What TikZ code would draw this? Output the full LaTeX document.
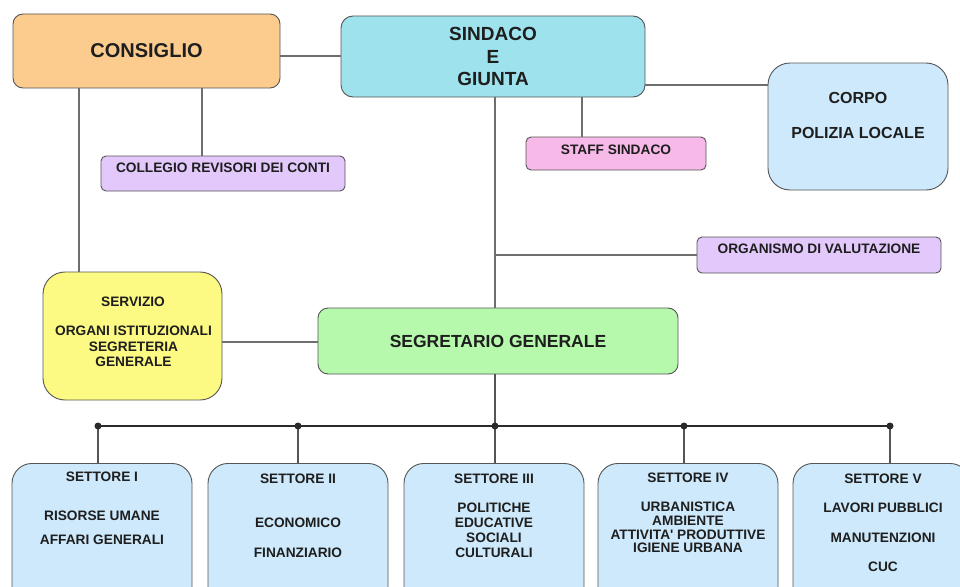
\documentclass[tikz,border=0pt]{standalone}
\usepackage{fontspec}
\setmainfont{Liberation Sans}
\definecolor{boxline}{HTML}{555555}
\definecolor{linec}{HTML}{6E6E6E}
\definecolor{busc}{HTML}{2A2A2A}
\definecolor{txtc}{HTML}{1E1E1E}
\definecolor{consf}{HTML}{FCCB8E}
\definecolor{sindf}{HTML}{9DE2EC}
\definecolor{bluef}{HTML}{CDE9FB}
\definecolor{staff}{HTML}{F6B9E8}
\definecolor{lavf}{HTML}{E2C8FB}
\definecolor{yelf}{HTML}{FCFA82}
\definecolor{grnf}{HTML}{B6F8AC}
\begin{document}
\begin{tikzpicture}[x=1pt,y=-1pt,
  orgbox/.style={draw=boxline,line width=0.9pt,inner sep=0pt},
  txt/.style={font=\bfseries\fontsize{13.7}{15}\selectfont,text=txtc,align=center,inner sep=0pt},
  link/.style={draw=linec,line width=1.8pt},
  bus/.style={draw=busc,line width=1.3pt},
  stem/.style={draw=busc!80!white,line width=1.5pt},
  dotn/.style={circle,fill=busc,inner sep=0pt,minimum size=7pt}]
\clip (0,0) rectangle (960,586);
\fill[white] (0,0) rectangle (960,586);

% boxes
\node[orgbox,fill=consf,rounded corners=10pt,minimum width=267pt,minimum height=74pt,
      font=\bfseries\fontsize{20}{22}\selectfont,text=txtc] (cons) at (146.5,51) {CONSIGLIO};
\node[orgbox,fill=sindf,rounded corners=12pt,minimum width=304pt,minimum height=81pt,
      font=\bfseries\fontsize{19}{22.5}\selectfont,text=txtc,align=center] (sind) at (493,56.5) {SINDACO\\E\\GIUNTA};
\node[orgbox,fill=bluef,rounded corners=22pt,minimum width=180pt,minimum height=127pt] (corpo) at (858,126.5) {};
\node[font=\bfseries\fontsize{16}{18}\selectfont,text=txtc,inner sep=0pt] (corpot1) at (858,98) {CORPO};
\node[font=\bfseries\fontsize{16}{18}\selectfont,text=txtc,inner sep=0pt] (corpot2) at (858,133) {POLIZIA LOCALE};
\node[orgbox,fill=staff,rounded corners=5pt,minimum width=180pt,minimum height=33pt] (staffb) at (616,153.5) {};
\node[txt] (stafft) at (616,150) {STAFF SINDACO};
\node[orgbox,fill=lavf,rounded corners=5pt,minimum width=244pt,minimum height=35pt] (coll) at (223,173.5) {};
\node[txt] (collt) at (223,168) {COLLEGIO REVISORI DEI CONTI};
\node[orgbox,fill=lavf,rounded corners=5pt,minimum width=244pt,minimum height=36pt] (org) at (819,255) {};
\node[txt] (orgt) at (819,249) {ORGANISMO DI VALUTAZIONE};
\node[orgbox,fill=yelf,rounded corners=22pt,minimum width=179pt,minimum height=128pt] (serv) at (132.5,336) {};
\node[txt] (servt1) at (133,302) {SERVIZIO};
\node[txt,font=\bfseries\fontsize{13.7}{15.5}\selectfont] (servt2) at (133.5,346.5) {ORGANI ISTITUZIONALI\\SEGRETERIA\\GENERALE};
\node[orgbox,fill=grnf,rounded corners=10pt,minimum width=360pt,minimum height=66pt,
      font=\bfseries\fontsize{17.5}{20}\selectfont,text=txtc] (segr) at (498,341) {SEGRETARIO GENERALE};

% settori
\node[orgbox,fill=bluef,rounded corners=20pt,minimum width=180pt,minimum height=150pt,anchor=north] (s1) at (102,463) {};
\node[orgbox,fill=bluef,rounded corners=20pt,minimum width=180pt,minimum height=150pt,anchor=north] (s2) at (298,463) {};
\node[orgbox,fill=bluef,rounded corners=20pt,minimum width=180pt,minimum height=150pt,anchor=north] (s3) at (494,463) {};
\node[orgbox,fill=bluef,rounded corners=20pt,minimum width=180pt,minimum height=150pt,anchor=north] (s4) at (688,463) {};
\node[orgbox,fill=bluef,rounded corners=20pt,minimum width=177pt,minimum height=150pt,anchor=north] (s5) at (881.5,463) {};

\node[txt] (s1h) at (102,477) {SETTORE I};
\node[txt,font=\bfseries\fontsize{13.7}{24}\selectfont] (s1b) at (102,528) {RISORSE UMANE\\AFFARI GENERALI};
\node[txt] (s2h) at (298,479) {SETTORE II};
\node[txt,font=\bfseries\fontsize{13.7}{30}\selectfont] (s2b) at (298,538) {ECONOMICO\\FINANZIARIO};
\node[txt] (s3h) at (494,479) {SETTORE III};
\node[txt,font=\bfseries\fontsize{13.7}{15}\selectfont] (s3b) at (494,530.5) {POLITICHE\\EDUCATIVE\\SOCIALI\\CULTURALI};
\node[txt] (s4h) at (688,478) {SETTORE IV};
\node[txt,font=\bfseries\fontsize{13.7}{13.7}\selectfont] (s4b) at (688,527.5) {URBANISTICA\\AMBIENTE\\ATTIVITA\textquotesingle{} PRODUTTIVE\\IGIENE URBANA};
\node[txt] (s5h) at (883,479) {SETTORE V};
\node[txt,font=\bfseries\fontsize{13.7}{29.5}\selectfont] (s5b) at (883,537.5) {LAVORI PUBBLICI\\MANUTENZIONI\\CUC};

% connectors
\draw[link] (cons.east |- 0,56) -- (sind.west |- 0,56);
\draw[link] (79,0 |- cons.south) -- (79,0 |- serv.north);
\draw[link] (202,0 |- cons.south) -- (202,0 |- coll.north);
\draw[link] (582,0 |- sind.south) -- (582,0 |- staffb.north);
\draw[link] (sind.east |- 0,85) -- (corpo.west |- 0,85);
\coordinate (j1) at (495,255);
\draw[link] (495,0 |- sind.south) -- (495,0 |- segr.north);
\draw[link] (j1) -- (org.west);
\draw[link] (serv.east |- 0,342) -- (segr.west |- 0,342);

\coordinate (d1) at (98,426);
\coordinate (d2) at (298,426);
\coordinate (d3) at (495,426);
\coordinate (d4) at (684,426);
\coordinate (d5) at (890,426);
\draw[stem] (495,0 |- segr.south) -- (d3);
\draw[bus] (d1) -- (d5);
\foreach \d/\s in {d1/s1,d2/s2,d3/s3,d4/s4,d5/s5}{
  \draw[stem] (\d) -- (\d |- \s.north);
  \node[dotn] at (\d) {};
}
\end{tikzpicture}
\end{document}
